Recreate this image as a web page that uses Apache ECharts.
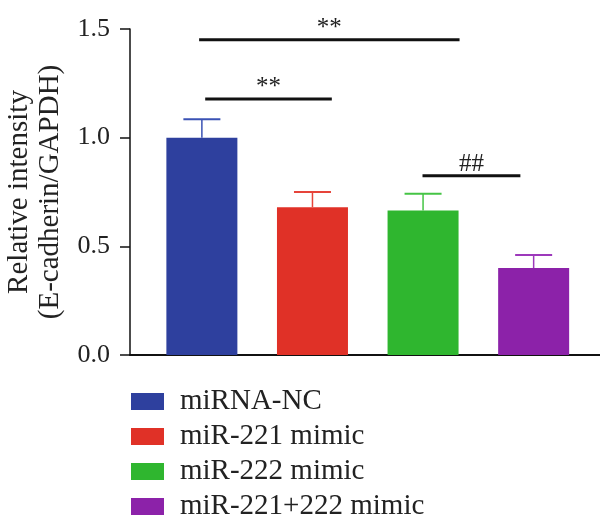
<!DOCTYPE html>
<html>
<head>
<meta charset="utf-8">
<script src="https://cdn.jsdelivr.net/npm/echarts@6/dist/echarts.min.js"></script>
<style>html,body{margin:0;padding:0;background:#fff}#c{width:600px;height:524px}</style>
</head>
<body>
<div id="c"></div>
<script>
const groups = ['miRNA-NC', 'miR-221 mimic', 'miR-222 mimic', 'miR-221+222 mimic'];
const positions = [1, 2, 3, 4];
const means = [1.00, 0.68, 0.665, 0.40];
const errTops = [1.085, 0.75, 0.742, 0.46];
const barColors = ['#2e409e', '#e03127', '#2fb62f', '#8c22a9'];
const capColors = ['#3a52b4', '#e6443a', '#45c445', '#9d39bb'];
const yTicks = [0, 0.5, 1.0, 1.5];
// significance brackets
const sigX1 = [0.975, 1.03, 2.995];
const sigX2 = [3.33, 2.175, 3.88];
const sigY = [1.45, 1.178, 0.825];
const sigLabels = ['**', '**', '##'];

const FONT = '"Liberation Serif", "DejaVu Serif", serif';
const chart = echarts.init(document.getElementById('c'));

const barSeries = groups.map((g, i) => ({
  name: g,
  type: 'bar',
  barWidth: 71,
  barGap: '-100%',
  itemStyle: { color: barColors[i] },
  data: [[positions[i], means[i]]],
  z: 2
}));

const errSeries = {
  type: 'custom',
  silent: true,
  z: 3,
  data: positions.map((p, i) => [p, means[i], errTops[i], i]),
  renderItem: function (params, api) {
    const x = api.value(0), lo = api.value(1), hi = api.value(2), k = api.value(3);
    const pLo = api.coord([x, lo]);
    const pHi = api.coord([x, hi]);
    const c = capColors[k];
    return {
      type: 'group',
      children: [
        { type: 'line', shape: { x1: pLo[0], y1: pLo[1], x2: pHi[0], y2: pHi[1] }, style: { stroke: c, lineWidth: 1.5 } },
        { type: 'line', shape: { x1: pHi[0] - 18.5, y1: pHi[1], x2: pHi[0] + 18.5, y2: pHi[1] }, style: { stroke: c, lineWidth: 2 } }
      ]
    };
  }
};

const sigSeries = {
  type: 'custom',
  silent: true,
  z: 4,
  data: sigX1.map((x1, i) => [x1, sigX2[i], sigY[i], i]),
  renderItem: function (params, api) {
    const x1 = api.value(0), x2 = api.value(1), y = api.value(2), k = api.value(3);
    const a = api.coord([x1, y]);
    const b = api.coord([x2, y]);
    return {
      type: 'group',
      children: [
        { type: 'line', shape: { x1: a[0], y1: a[1], x2: b[0], y2: b[1] }, style: { stroke: '#111', lineWidth: 3 } },
        { type: 'text', x: (a[0] + b[0]) / 2, y: a[1] + 1,
          style: { text: sigLabels[k], fill: '#222', font: '25px ' + FONT, textAlign: 'center', textVerticalAlign: 'bottom' } }
      ]
    };
  }
};

chart.setOption({
  animation: false,
  backgroundColor: '#fff',
  textStyle: { fontFamily: FONT },
  grid: { left: 130, right: 0, top: 29, bottom: 169, containLabel: false, outerBoundsMode: 'none' },
  legend: {
    orient: 'vertical',
    left: 131,
    top: 386,
    padding: 0,
    itemWidth: 33,
    itemHeight: 17,
    itemGap: 4,
    icon: 'rect',
    selectedMode: false,
    data: groups,
    textStyle: { fontFamily: FONT, fontSize: 29, lineHeight: 31, color: '#222', padding: [0, 0, 0, 11] }
  },
  xAxis: {
    type: 'value',
    min: 0.35,
    max: 4.6,
    axisLine: { show: true, lineStyle: { color: '#111', width: 2 } },
    axisTick: { show: false },
    axisLabel: { show: false },
    splitLine: { show: false }
  },
  yAxis: {
    type: 'value',
    min: yTicks[0],
    max: yTicks[yTicks.length - 1],
    interval: 0.5,
    name: 'Relative intensity\n(E-cadherin/GAPDH)',
    nameLocation: 'middle',
    nameRotate: 90,
    nameGap: 64,
    nameTextStyle: { fontFamily: FONT, fontSize: 29, color: '#222', lineHeight: 31 },
    axisLine: { show: true, lineStyle: { color: '#111', width: 1.5 } },
    axisTick: { show: true, length: 10, lineStyle: { color: '#111', width: 1.5 } },
    axisLabel: { fontFamily: FONT, fontSize: 26, color: '#222', margin: 20, formatter: v => v.toFixed(1) },
    splitLine: { show: false }
  },
  series: [...barSeries, errSeries, sigSeries]
});
</script>
</body>
</html>
